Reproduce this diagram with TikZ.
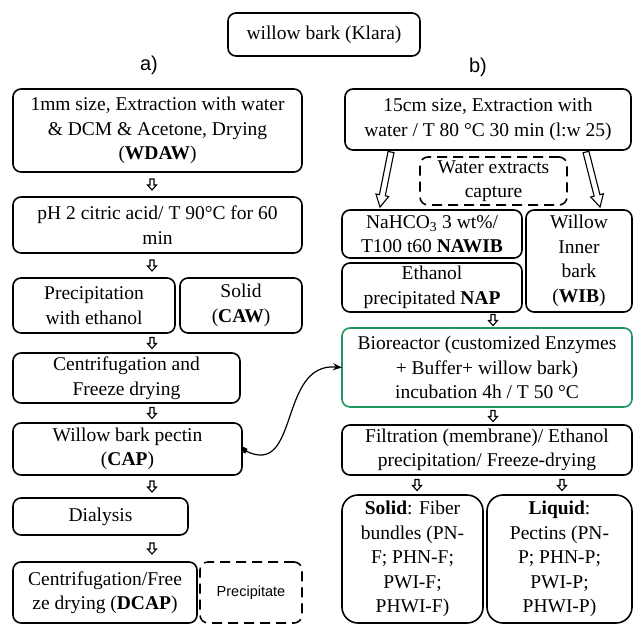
\documentclass[tikz,border=0pt]{standalone}
\usepackage{fontspec}
\setmainfont{Liberation Serif}
\setsansfont{Liberation Sans}
\usetikzlibrary{positioning,calc,arrows.meta}

\definecolor{bioGreen}{RGB}{30,150,95}

\tikzset{
  box/.style={draw,rounded corners=8pt,line width=1.6pt,align=center,inner sep=2pt,outer sep=0pt,
    font=\fontsize{19.5}{24.5}\selectfont},
  dashbox/.style={box,dash pattern=on 10pt off 6pt},
  partlabel/.style={font=\sffamily\fontsize{20}{20}\selectfont,inner sep=0pt},
  hollow/.style n args={3}{line width=1.1pt,line join=miter,to path={
    let \p1=($(\tikztotarget)!#3!(\tikztostart)$) in
    -- ($(\tikztostart)!#1!90:(\tikztotarget)$)
    -- ($(\p1)!#1!90:(\tikztotarget)$)
    -- ($(\p1)!#2!90:(\tikztotarget)$)
    -- (\tikztotarget)
    -- ($(\p1)!#2!-90:(\tikztotarget)$)
    -- ($(\p1)!#1!-90:(\tikztotarget)$)
    -- ($(\tikztostart)!#1!-90:(\tikztotarget)$)
    -- cycle}},
  link/.style={arrows={Square[length=5pt,width=5pt]-Stealth[length=9pt,width=7pt]},line width=1.2pt}
}

% small hollow arrow half way between two boxes, at the x of a coordinate
\newcommand{\stepdown}[3]{%
  \path (#1.south -| #3) -- (#2.north -| #3) coordinate[pos=0.5] (mid);
  \draw[hollow={2pt}{4.5pt}{5pt}] ($(mid)+(0,-5.5)$) to ($(mid)+(0,5.5)$);
}

\begin{document}
\begin{tikzpicture}[x=1pt,y=-1pt]
\useasboundingbox (0,0) rectangle (633,625);

\node[box, minimum width=192pt, minimum height=43pt] (klara) at (324,34.5) {willow bark (Klara)};
\node[partlabel] (parta) at (149,65) {a)};
\node[partlabel] (partb) at (478,67) {b)};

% a)
\node[box, anchor=north west, minimum width=289pt, minimum height=83pt] (wdaw) at (13,89)
  {1mm size, Extraction with water\\ \& DCM \& Acetone, Drying\\ (\textbf{WDAW})};
\node[box, below=25pt of wdaw.south west, anchor=north west, minimum width=289pt, minimum height=56pt] (citric)
  {pH 2 citric acid/ T 90°C for 60\\ min};
\node[box, below=25pt of citric.south west, anchor=north west, minimum width=162pt, minimum height=55pt] (precip)
  {Precipitation\\ with ethanol};
\node[box, right=5pt of precip, minimum width=122pt, minimum height=55pt] (caw) {Solid\\ (\textbf{CAW})};
\node[box, below=20pt of precip.south west, anchor=north west, minimum width=227pt, minimum height=50pt] (centri)
  {Centrifugation and\\ Freeze drying};
\node[box, below=20pt of centri.south west, anchor=north west, minimum width=229pt, minimum height=52pt] (cap)
  {Willow bark pectin\\ (\textbf{CAP})};
\node[box, below=23pt of cap.south west, anchor=north west, minimum width=175pt, minimum height=37pt] (dialysis)
  {Dialysis};
\node[box, below=27pt of dialysis.south west, anchor=north west, minimum width=184pt, minimum height=61pt] (dcap)
  {Centrifugation/Free\\ ze drying (\textbf{DCAP})};
\node[dashbox, right=3pt of dcap, minimum width=102pt, minimum height=61pt,
  font=\sffamily\fontsize{14.5}{17}\selectfont] (ppt) {Precipitate};

% b)
\node[box, anchor=north west, minimum width=286pt, minimum height=61pt] (extract) at (345,89)
  {15cm size, Extraction with\\ water / T 80 °C 30 min (l:w 25)};
\node[dashbox, anchor=north west, minimum width=147pt, minimum height=48pt, inner ysep=0pt] (capture) at (420,157)
  {Water extracts\\ capture};
\node[box, anchor=north west, minimum width=180pt, minimum height=48pt, inner ysep=0pt] (nawib) at (342,210)
  {NaHCO\textsubscript{3} 3 wt\%/\\ T100 t60 \textbf{NAWIB}};
\node[box, below=5pt of nawib, minimum width=180pt, minimum height=49pt, inner ysep=0pt] (nap)
  {Ethanol\\ precipitated \textbf{NAP}};
\node[box, right=4pt of nawib.north east, anchor=north west, minimum width=106pt, minimum height=102pt] (wib)
  {Willow\\ Inner\\ bark\\ (\textbf{WIB})};
\node[box, draw=bioGreen, below=16pt of nap.south west, anchor=north west, minimum width=290pt, minimum height=79pt] (bio)
  {Bioreactor (customized Enzymes\\ + Buffer+ willow bark)\\ incubation 4h / T 50 °C};
\node[box, below=18pt of bio.south west, anchor=north west, minimum width=290pt, minimum height=50pt] (filt)
  {Filtration (membrane)/ Ethanol\\ precipitation/ Freeze-drying};
\node[box, rounded corners=16pt, below=20pt of filt.south west, anchor=north west, minimum width=141pt, minimum height=128pt] (fibre)
  {\textbf{Solid}: Fiber\\ bundles (PN-\\ F; PHN-F;\\ PWI-F;\\ PHWI-F)};
\node[box, rounded corners=16pt, right=4pt of fibre, minimum width=145pt, minimum height=128pt] (pectin)
  {\textbf{Liquid}:\\ Pectins (PN-\\ P; PHN-P;\\ PWI-P;\\ PHWI-P)};

\coordinate (colA) at (152,0);
\coordinate (colB) at (493,0);
\coordinate (colL) at (417,0);
\coordinate (colR) at (562,0);

\stepdown{wdaw}{citric}{colA}
\stepdown{citric}{precip}{colA}
\stepdown{precip}{centri}{colA}
\stepdown{centri}{cap}{colA}
\stepdown{cap}{dialysis}{colA}
\stepdown{dialysis}{dcap}{colA}
\stepdown{nap}{bio}{colB}
\stepdown{bio}{filt}{colB}
\stepdown{filt}{fibre}{colL}
\stepdown{filt}{pectin}{colR}

\draw[hollow={3pt}{6.5pt}{12pt}] ([xshift=-97pt,yshift=-2pt]extract.south) to ([xshift=-52pt,yshift=3pt]nawib.north);
\draw[hollow={3pt}{6.5pt}{12pt}] ([xshift=98pt,yshift=-2pt]extract.south) to ([xshift=21pt,yshift=3pt]wib.north);

\draw[link] (cap.east) .. controls (300,478) and (278,362) .. (bio.west);
\end{tikzpicture}
\end{document}
